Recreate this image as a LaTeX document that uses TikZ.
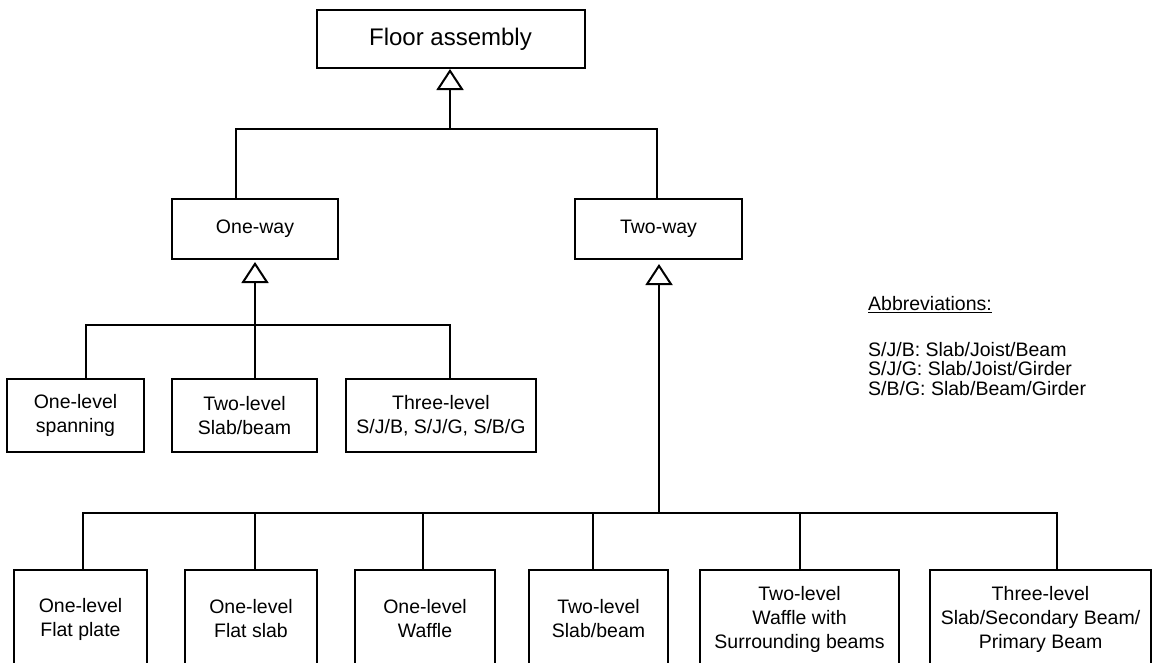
\documentclass[tikz,border=0pt]{standalone}
\usepackage{fontspec}
\setmainfont{Liberation Sans}
\usetikzlibrary{arrows.meta}
\begin{document}
\begin{tikzpicture}[x=1pt,y=-1pt,
  box/.style={draw, line width=2pt, align=center, inner sep=0pt,
    font=\fontsize{19.5}{24}\selectfont},
  link/.style={line width=2pt},
  isa/.style={link, -{Triangle[open,length=21pt,width=27pt,line width=2pt]}},
  note/.style={anchor=west, align=left, inner sep=0pt,
    font=\fontsize{19.5}{19.5}\selectfont}]
\useasboundingbox (0,0) rectangle (1153,662);
\clip (0,0) rectangle (1153,662);

% top level
\node[box, minimum width=268, minimum height=58,
      font=\fontsize{24}{28}\selectfont] (floor) at (450.5,39) {Floor assembly};

% second level
\node[box, minimum width=166, minimum height=60] (oneway) at (255,229) {One-way};
\node[box, minimum width=167, minimum height=60] (twoway) at (658.5,229) {Two-way};

% one-way systems
\node[box, minimum width=137, minimum height=73] (ospan)  at (75.5,415.5) {One-level\\spanning};
\node[box, minimum width=145, minimum height=73] (oslab)  at (244.5,415.5) {Two-level\\Slab/beam};
\node[box, minimum width=190, minimum height=73] (othree) at (441,415.5) {Three-level\\S/J/B, S/J/G, S/B/G};

% two-way systems (boxes run past the lower edge)
\node[box, minimum width=133, minimum height=98] (tplate)  at (80.5,619)  {One-level\\Flat plate};
\node[box, minimum width=132, minimum height=98] (tslab)   at (251,619)   {One-level\\Flat slab};
\node[box, minimum width=140, minimum height=98] (twaffle) at (425,619)   {One-level\\Waffle};
\node[box, minimum width=139, minimum height=98] (tbeam)   at (598.5,619) {Two-level\\Slab/beam};
\node[box, minimum width=199, minimum height=98] (tsurr)   at (799.5,619) {Two-level\\Waffle with\\Surrounding beams};
\node[box, minimum width=221, minimum height=98] (tthree)  at (1040.5,619) {Three-level\\Slab/Secondary Beam/\\Primary Beam};

% abbreviations
\node[note] (abbr) at (868,305) {\underline{Abbreviations:}};
\node[note] (abbrlist) at (868,369) {S/J/B: Slab/Joist/Beam\\S/J/G: Slab/Joist/Girder\\S/B/G: Slab/Beam/Girder};

% floor assembly branch
\coordinate (j0) at (450,129);
\coordinate (owtop) at ([xshift=-19pt]oneway.north);
\coordinate (twtop) at ([xshift=-2pt]twoway.north);
\draw[link] (owtop) |- (j0) -| (twtop);
\draw[isa] (j0) -- (j0 |- floor.south);

% one-way branch
\coordinate (j1) at (255,325);
\coordinate (sa) at ([xshift=10.5pt]ospan.north);
\coordinate (sb) at ([xshift=10.5pt]oslab.north);
\coordinate (sc) at ([xshift=9pt]othree.north);
\draw[link] (sa) |- (j1) -| (sc);
\draw[link] (sb) -- (j1);
\draw[isa, shorten >=2pt] (j1) -- (j1 |- oneway.south);

% two-way branch
\coordinate (j2) at (659,513);
\coordinate (b1) at ([xshift=2.5pt]tplate.north);
\coordinate (b2) at ([xshift=4pt]tslab.north);
\coordinate (b3) at ([xshift=-2pt]twaffle.north);
\coordinate (b4) at ([xshift=-5.5pt]tbeam.north);
\coordinate (b5) at ([xshift=0.5pt]tsurr.north);
\coordinate (b6) at ([xshift=16.5pt]tthree.north);
\draw[link] (b1) |- (j2) -| (b6);
\draw[link] (b2) -- (b2 |- j2);
\draw[link] (b3) -- (b3 |- j2);
\draw[link] (b4) -- (b4 |- j2);
\draw[link] (b5) -- (b5 |- j2);
\draw[isa, shorten >=4pt] (j2) -- (j2 |- twoway.south);
\end{tikzpicture}
\end{document}
